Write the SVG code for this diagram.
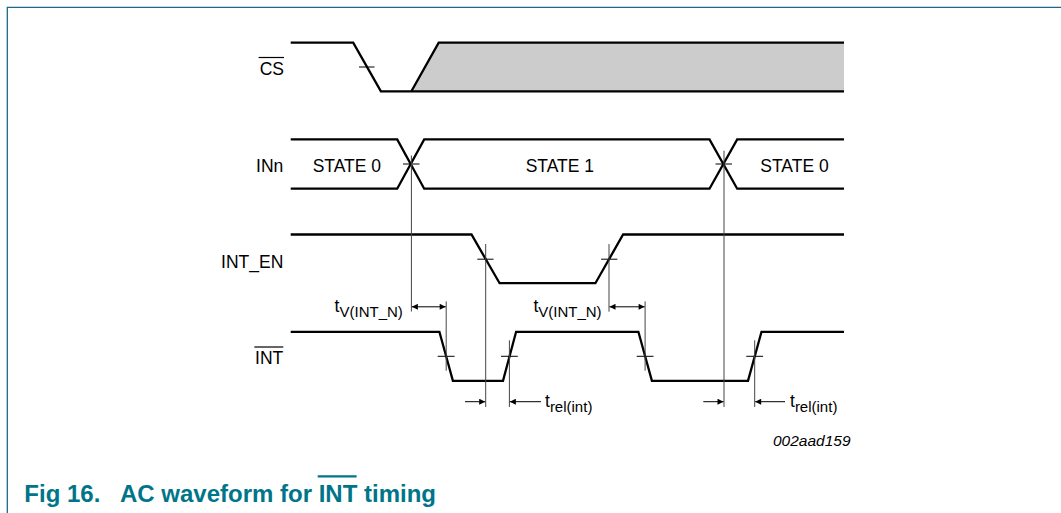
<svg xmlns="http://www.w3.org/2000/svg" width="1061" height="513" viewBox="0 0 1061 513">
<style>
.w{fill:none;stroke:#000;stroke-width:2.3;stroke-linejoin:miter}
.t{fill:none;stroke:#000;stroke-width:1}
.v{fill:none;stroke:#444;stroke-width:1}
.lbl{font-family:"Liberation Sans",Arial,sans-serif;font-size:17.5px;fill:#000}
.sub{font-family:"Liberation Sans",Arial,sans-serif;font-size:15px;fill:#000}
.ttl{font-family:"Liberation Sans",Arial,sans-serif;font-size:24px;font-weight:bold;fill:#00758a}
</style>
<defs>
<marker id="ah" viewBox="0 0 10 10" refX="10" refY="5" markerWidth="9" markerHeight="6" markerUnits="userSpaceOnUse" orient="auto-start-reverse">
<path d="M0,0 L10,5 L0,10 z" fill="#000"/>
</marker>
</defs>
<rect width="1061" height="513" fill="#fff"/>
<g id="frame">
<path d="M7.3,513 V7.3 H1061" fill="none" stroke="#1b6c82" stroke-width="1.3"/>
</g>
<g id="cs">
<text class="lbl" x="284" y="75" text-anchor="end">CS</text>
<line x1="258.6" y1="57.5" x2="284" y2="57.5" stroke="#000" stroke-width="1.2"/>
<polygon points="411.4,91.3 438.7,42.6 844,42.6 844,91.3" fill="#cccccc"/>
<path class="w" d="M290.7,42.6 H353.2 L380.9,91.3 H844"/>
<path class="w" d="M411.4,91.3 L438.7,42.6 H844"/>
<line class="t" x1="359" y1="67" x2="374.5" y2="67"/>
</g>
<g id="inn">
<text class="lbl" x="283.3" y="172" text-anchor="end">INn</text>
<path class="w" d="M290.7,139.4 H397.2 L424.2,188.7 H709.5 L737.2,139.4 H844"/>
<path class="w" d="M290.7,188.7 H397.2 L424.2,139.4 H709.5 L737.2,188.7 H844"/>
<text class="lbl" x="312.7" y="172">STATE 0</text>
<text class="lbl" x="525.7" y="172">STATE 1</text>
<text class="lbl" x="760.3" y="172">STATE 0</text>
<line class="t" x1="403" y1="164" x2="419.5" y2="164"/>
<line class="t" x1="715.5" y1="164" x2="732" y2="164"/>
</g>
<g id="int_en">
<text class="lbl" x="283.3" y="267.6" text-anchor="end">INT_EN</text>
<path class="w" d="M290.7,234.5 H471.5 L499.6,283.2 H595.4 L623.1,234.5 H844"/>
<line class="t" x1="477.3" y1="259.2" x2="493.5" y2="259.2"/>
<line class="t" x1="601.1" y1="259.2" x2="617.4" y2="259.2"/>
</g>
<g id="int">
<text class="lbl" x="283.3" y="364" text-anchor="end">INT</text>
<line x1="254.2" y1="347" x2="283.3" y2="347" stroke="#000" stroke-width="1.2"/>
<path class="w" d="M290.7,331.8 H439.4 L452.9,380.8 H503 L516.1,331.8 H638.4 L651.9,380.8 H748 L761.5,331.8 H844"/>
<line class="t" x1="437.7" y1="356.3" x2="454.6" y2="356.3"/>
<line class="t" x1="501" y1="356.3" x2="517.8" y2="356.3"/>
<line class="t" x1="636.7" y1="356.3" x2="653.5" y2="356.3"/>
<line class="t" x1="746.3" y1="356.3" x2="763.1" y2="356.3"/>
</g>
<g id="connectors">
<line class="v" x1="411.4" y1="155.5" x2="411.4" y2="311.5"/>
<line class="v" x1="724" y1="150.7" x2="724" y2="407"/>
<line class="v" x1="485.7" y1="244" x2="485.7" y2="407"/>
<line class="v" x1="609" y1="244" x2="609" y2="311.7"/>
<line class="v" x1="446.2" y1="301.4" x2="446.2" y2="370.7"/>
<line class="v" x1="645.1" y1="301.4" x2="645.1" y2="370.7"/>
<line class="v" x1="509.4" y1="340.3" x2="509.4" y2="407"/>
<line class="v" x1="754.7" y1="340.3" x2="754.7" y2="407"/>
<line class="t" x1="411.9" y1="306.8" x2="445.7" y2="306.8" marker-start="url(#ah)" marker-end="url(#ah)"/>
<line class="t" x1="609.5" y1="306.8" x2="644.6" y2="306.8" marker-start="url(#ah)" marker-end="url(#ah)"/>
<line class="t" x1="465" y1="401.7" x2="485.2" y2="401.7" marker-end="url(#ah)"/>
<line class="t" x1="541" y1="401.7" x2="509.9" y2="401.7" marker-end="url(#ah)"/>
<line class="t" x1="703.3" y1="401.7" x2="723.5" y2="401.7" marker-end="url(#ah)"/>
<line class="t" x1="785" y1="401.7" x2="755.2" y2="401.7" marker-end="url(#ah)"/>
</g>
<g id="labels">
<text class="lbl" x="334.6" y="311.5">t<tspan class="sub" dy="5.1">V(INT_N)</tspan></text>
<text class="lbl" x="533.4" y="311.5">t<tspan class="sub" dy="5.1">V(INT_N)</tspan></text>
<text class="lbl" x="545" y="407">t<tspan class="sub" dy="5">rel(int)</tspan></text>
<text class="lbl" x="790" y="407">t<tspan class="sub" dy="5">rel(int)</tspan></text>
<text x="773" y="445.7" font-family="Liberation Sans, Arial, sans-serif" font-size="15.5" font-style="italic" fill="#000">002aad159</text>
</g>
<g id="title">
<text class="ttl" x="24.3" y="501.5">Fig 16.</text>
<text class="ttl" x="120" y="501.5">AC waveform for INT timing</text>
<line x1="317.7" y1="476.4" x2="356.6" y2="476.4" stroke="#00758a" stroke-width="2.4"/>
</g>
</svg>
